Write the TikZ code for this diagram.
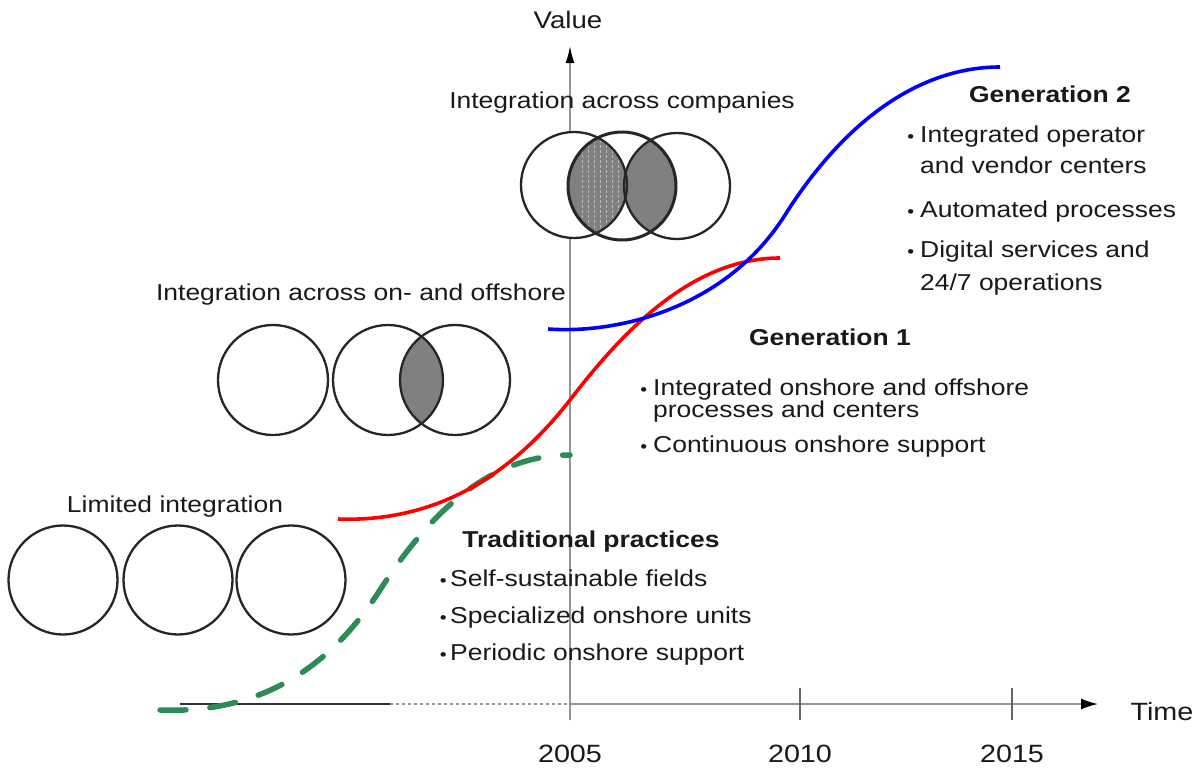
\documentclass[tikz,border=0pt]{standalone}
\usepackage{fontspec}
\setmainfont{Liberation Sans}[FakeStretch=1.15]
\usetikzlibrary{arrows.meta}
\definecolor{gengreen}{RGB}{46,139,87}
\definecolor{axgray}{RGB}{150,150,150}
\definecolor{txt}{RGB}{25,25,25}
\definecolor{lensgray}{RGB}{128,128,128}
\definecolor{dotgray}{RGB}{185,185,185}
\newcommand{\bulA}{\llap{\fontsize{17}{17}\selectfont\textbullet\hspace{6pt}}}
\newcommand{\bulB}{\llap{\fontsize{17}{17}\selectfont\textbullet\hspace{3.5pt}}}
\begin{document}
\begin{tikzpicture}[x=1pt,y=-1pt,
  circ/.style={circle, draw=black!85, line width=2.3pt, minimum size=#1, inner sep=0pt},
  lbl/.style={font=\fontsize{23}{27}\selectfont, text=txt, inner sep=0pt, anchor=base},
  lline/.style={font=\fontsize{23}{27}\selectfont, text=txt, inner sep=0pt, anchor=base west},
  ttl/.style={font=\fontsize{23}{27}\selectfont\bfseries, text=txt, inner sep=0pt, anchor=base},
  yr/.style={font=\fontsize{25}{30}\selectfont, text=txt, inner sep=0pt, anchor=base},
  axline/.style={draw=axgray, line width=1.6pt},
  darkline/.style={draw=black!80, line width=1.3pt},
  tick/.style={draw=black!60, line width=1.3pt},
  lens/.style={fill=lensgray},
  dotline/.style={draw=dotgray, line width=0.8pt, dash pattern=on 3pt off 2pt},
  redc/.style={draw=red, line width=3.6pt},
  bluec/.style={draw=blue, line width=3.6pt},
  greenc/.style={draw=gengreen, line width=5.5pt, line cap=round, dash pattern=on 26pt off 24pt}]
\useasboundingbox (0,0) rectangle (1197,769);

% axes
\coordinate (xstart) at (180,704);
\coordinate (xmid) at (390,704);
\coordinate (origin) at (570,704);
\coordinate (xend) at (1098,704);
\coordinate (vbot) at (570,720);
\coordinate (vtop) at (570,46);
\draw[darkline] (xstart) -- (xmid);
\draw[axline, dashed] (xmid) -- (origin);
\draw[axline, -{Latex[length=17pt,width=11pt,black]}] (origin) -- (xend);
\draw[axline, -{Latex[length=17pt,width=9pt,black]}] (vbot) -- (vtop);
\coordinate (t10a) at (800,688); \coordinate (t10b) at (800,720);
\coordinate (t15a) at (1012,688); \coordinate (t15b) at (1012,720);
\draw[tick] (t10a) -- (t10b);
\draw[tick] (t15a) -- (t15b);

\node[lbl] (value) at (568,28) {\fontsize{24}{28}\selectfont Value};
\node[yr] (time) at (1162,720) {Time};
\node[yr] (y2005) at (570,762) {2005};
\node[yr] (y2010) at (800,762) {2010};
\node[yr] (y2015) at (1012,762) {2015};

% limited integration
\node[lbl] (lim) at (175,512) {Limited integration};
\node[circ=109] (l1) at (63,580) {};
\node[circ=109] (l2) at (178,580) {};
\node[circ=109] (l3) at (291,580) {};

% on- and offshore
\node[lbl] (onoff) at (361,300) {Integration across on- and offshore};
\begin{scope}
  \clip (388,380) circle[radius=55];
  \fill[lens] (455,380) circle[radius=55];
\end{scope}
\node[circ=110] (o1) at (273,380) {};
\node[circ=110] (o2) at (388,380) {};
\node[circ=110] (o3) at (455,380) {};

% across companies
\node[lbl] (comp) at (622,108) {Integration across companies};
\fill[white] (574,185) circle[radius=53];
\fill[white] (622,186) circle[radius=54];
\fill[white] (677,186) circle[radius=53];
\begin{scope}
  \clip (574,185) circle[radius=53];
  \fill[lens] (622,186) circle[radius=54];
  \clip (622,186) circle[radius=54];
  \foreach \xx in {582,588,...,618} \draw[dotline] (\xx,120) -- (\xx,250);
\end{scope}
\begin{scope}
  \clip (677,186) circle[radius=53];
  \fill[lens] (622,186) circle[radius=54];
\end{scope}
\node[circ=106] (k1) at (574,185) {};
\node[circ=106] (k3) at (677,186) {};
\node[circ=108, line width=3pt] (k2) at (622,186) {};

% curves
\coordinate (g0) at (160,710);
\coordinate (g1) at (380,590);
\coordinate (g2) at (570,455);
\draw[greenc] (g0) .. controls (260,714) and (330,668) .. (g1)
  .. controls (430,512) and (490,455) .. (g2);

\coordinate (r0) at (338,519);
\coordinate (r1) at (570,400);
\coordinate (r2) at (780,258);
\draw[redc] (r0) .. controls (420,522) and (500,490) .. (r1)
  .. controls (620,335) and (690,258) .. (r2);

\coordinate (b0) at (548,329);
\coordinate (b1) at (785,215);
\coordinate (b2) at (1000,67);
\draw[bluec] (b0) .. controls (615,334) and (725,310) .. (b1)
  .. controls (845,120) and (920,67) .. (b2);

% traditional practices
\node[ttl] (tradT) at (591,547) {Traditional practices};
\node[lline] (trad1) at (450,586) {\bulB Self-sustainable fields};
\node[lline] (trad2) at (450,623) {\bulB Specialized onshore units};
\node[lline] (trad3) at (450,660) {\bulB Periodic onshore support};

% generation 1
\node[ttl] (gen1T) at (830,345) {Generation 1};
\node[lline] (gen1a) at (653,395) {\bulA Integrated onshore and offshore};
\node[lline] (gen1b) at (653,417) {processes and centers};
\node[lline] (gen1c) at (653,452) {\bulA Continuous onshore support};

% generation 2
\node[ttl] (gen2T) at (1050,102) {Generation 2};
\node[lline] (gen2a) at (920,142) {\bulA Integrated operator};
\node[lline] (gen2b) at (920,173) {and vendor centers};
\node[lline] (gen2c) at (920,217) {\bulA Automated processes};
\node[lline] (gen2d) at (920,257) {\bulA Digital services and};
\node[lline] (gen2e) at (920,290) {24/7 operations};
\end{tikzpicture}
\end{document}
